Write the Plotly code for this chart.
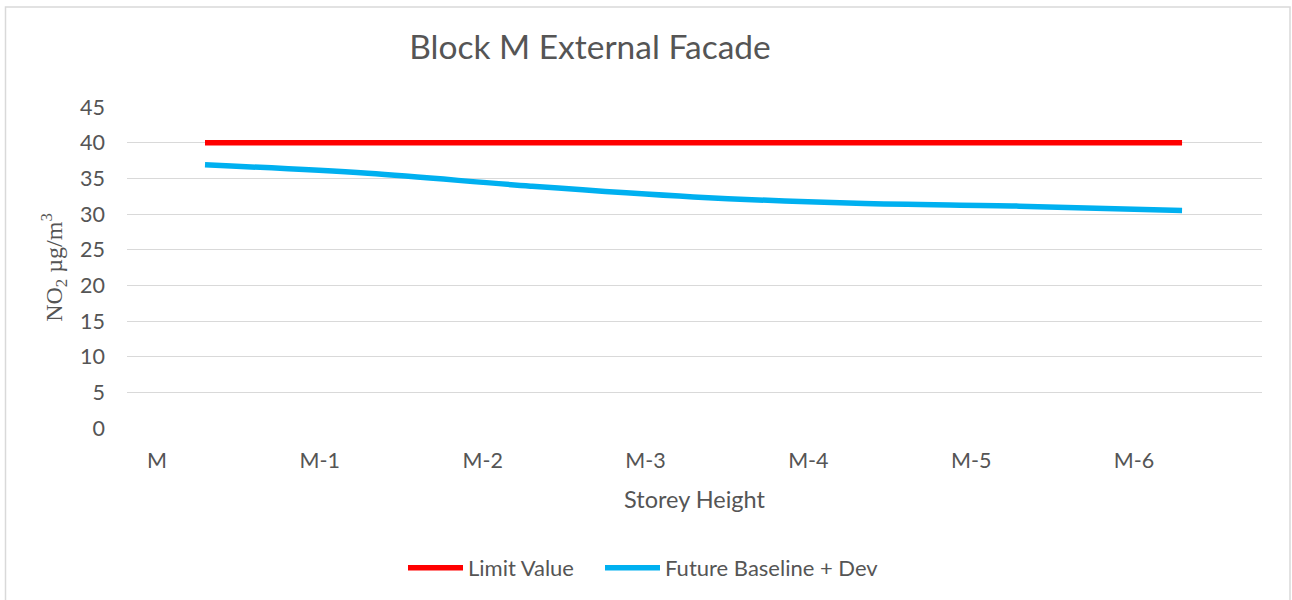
import plotly.graph_objects as go

# Storey levels along the facade and NO2 concentrations (µg/m³)
storeys = ["M", "M-1", "M-2", "M-3", "M-4", "M-5", "M-6"]
limit_value = [40, 40, 40, 40, 40, 40, 40]
future_baseline_dev = [36.9, 35.7, 33.9, 32.4, 31.5, 31.1, 30.5]
y_ticks = [0, 5, 10, 15, 20, 25, 30, 35, 40, 45]

TEXT = "#555555"
GRID = "#D9D9D9"
FONT = "Lato, 'Open Sans', sans-serif"

# series points sit a little to the right of their storey label
LINE_SHIFT = 0.295
xpos = [i + LINE_SHIFT for i in range(len(storeys))]

W, H = 1292, 600
L, R, T, B = 127, 30, 107, 172
pw, ph = W - L - R, H - T - B

fig = go.Figure()
fig.add_trace(go.Scatter(
    x=xpos, y=limit_value, name="Limit Value", mode="lines",
    line=dict(color="#FF0000", width=5.5, shape="spline"),
    legend="legend",
))
fig.add_trace(go.Scatter(
    x=xpos, y=future_baseline_dev, name="Future Baseline + Dev", mode="lines",
    line=dict(color="#00B0F0", width=5.5, shape="spline"),
    legend="legend2",
))

# chart frame
def px_x(p):
    return (p - L) / pw

def px_y(p):
    return (H - B - p) / ph

fig.add_shape(type="rect", xref="paper", yref="paper",
              x0=px_x(5.5), x1=px_x(1290), y0=px_y(610), y1=px_y(7),
              line=dict(color=GRID, width=1.5), fillcolor="rgba(0,0,0,0)",
              layer="below")

legend_style = dict(orientation="h", xref="container", yref="container",
                    xanchor="left", yanchor="middle", y=1 - 568 / H,
                    font=dict(size=22, color=TEXT), itemwidth=55,
                    bgcolor="rgba(0,0,0,0)")

fig.update_layout(
    width=W, height=H, autosize=False,
    margin=dict(l=L, r=R, t=T, b=B),
    paper_bgcolor="white", plot_bgcolor="white",
    font=dict(family=FONT, color=TEXT, size=21),
    title=dict(text="Block M External Facade", xref="container", yref="container",
               x=590 / W, y=1 - 47 / H, xanchor="center", yanchor="middle",
               font=dict(size=33.5, color=TEXT, family=FONT)),
    showlegend=True,
    legend=dict(x=403 / W, **legend_style),
    legend2=dict(x=600 / W, **legend_style),
    xaxis=dict(
        range=[-0.184, 6.786], tickmode="array",
        tickvals=list(range(len(storeys))), ticktext=storeys,
        showgrid=False, zeroline=False, showline=False, ticks="",
        ticklabelstandoff=17,
        tickfont=dict(size=21.5, color=TEXT),
        title=dict(text="Storey Height", standoff=20,
                   font=dict(size=23.5, color=TEXT)),
    ),
    yaxis=dict(
        range=[0, 45], tickmode="array", tickvals=y_ticks,
        showgrid=True, gridcolor=GRID, gridwidth=1.3,
        zeroline=False, showline=False, ticks="",
        ticklabelstandoff=21,
        tickfont=dict(size=21.5, color=TEXT),
        title=dict(text="NO<sub>2</sub> µg/m<sup>3</sup>", standoff=10,
                   font=dict(size=24, color=TEXT,
                             family="'Liberation Serif', 'DejaVu Serif', serif")),
    ),
)

fig.write_html("out.html")
